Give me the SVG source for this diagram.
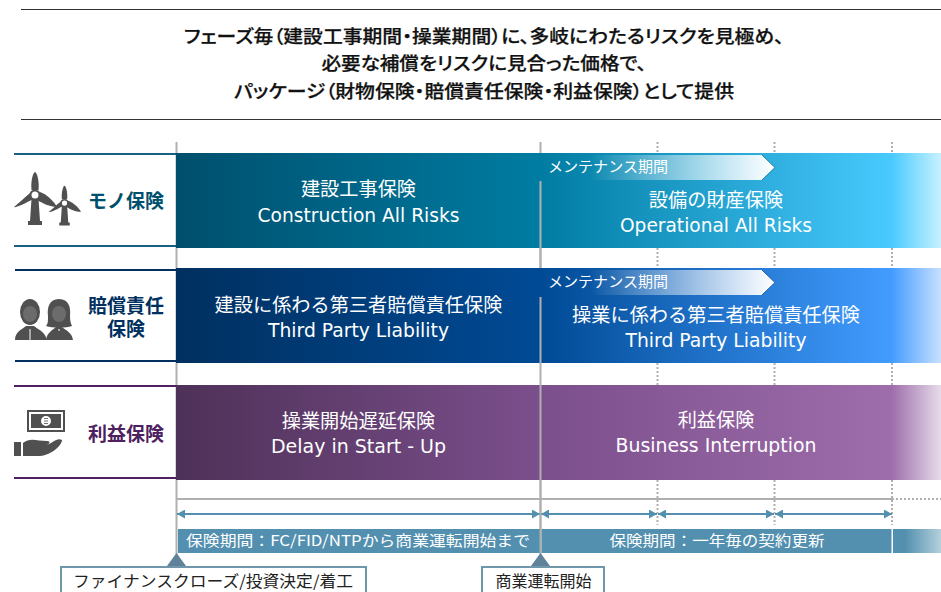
<svg xmlns="http://www.w3.org/2000/svg" width="941" height="592" viewBox="0 0 941 592">
<style>
text{font-family:"Noto Sans CJK JP","DejaVu Sans",sans-serif}
.lat{font-family:"DejaVu Sans",sans-serif;font-size:18.500px}
.w{fill:#fff;font-size:19.200px;text-anchor:middle}
.m{fill:#fff;font-size:15px}
.h{font-size:19px;font-weight:700;text-anchor:middle}
.t{fill:#111;stroke:#111;stroke-width:.25px;font-size:18px;font-weight:500;text-anchor:middle;font-feature-settings:"palt"}
.g{stroke:#b0b0b0;stroke-width:2;fill:none}
.d{stroke:#b0b0b0;stroke-width:2;stroke-dasharray:2 2;fill:none}
.ic{fill:#505050}
.a{stroke:#5390b0;stroke-width:2;fill:none;marker-start:url(#as);marker-end:url(#ae)}
.bar{fill:#5390b0}
.bt{fill:#fff;font-size:15px;text-anchor:middle}
.box{fill:#fff;stroke:#6f96aa;stroke-width:2}
.tri{fill:#5f8199}
.k{fill:#222;font-size:16px;text-anchor:middle}
</style>
<defs>
<linearGradient id="r1" gradientUnits="userSpaceOnUse" x1="176" y1="0" x2="941" y2="0"><stop offset="0" stop-color="#004f6d"/><stop offset=".476" stop-color="#007ca2"/><stop offset=".935" stop-color="#48caff"/><stop offset="1" stop-color="#c8f1ff"/></linearGradient>
<linearGradient id="r2" gradientUnits="userSpaceOnUse" x1="176" y1="0" x2="941" y2="0"><stop offset="0" stop-color="#003060"/><stop offset=".476" stop-color="#004a95"/><stop offset=".935" stop-color="#429cff"/><stop offset="1" stop-color="#c8e0ff"/></linearGradient>
<linearGradient id="r3" gradientUnits="userSpaceOnUse" x1="176" y1="0" x2="941" y2="0"><stop offset="0" stop-color="#4e3158"/><stop offset=".476" stop-color="#7b4f8c"/><stop offset=".935" stop-color="#9e6dab"/><stop offset="1" stop-color="#e6dcea"/></linearGradient>
<linearGradient id="mg1" gradientUnits="userSpaceOnUse" x1="590" y1="0" x2="775" y2="0"><stop offset="0" stop-color="#fff" stop-opacity="0"/><stop offset="1" stop-color="#fff"/></linearGradient>
<linearGradient id="bg" gradientUnits="userSpaceOnUse" x1="905" y1="0" x2="941" y2="0"><stop offset="0" stop-color="#5390b0"/><stop offset="1" stop-color="#b4d0dc"/></linearGradient>
<marker id="as" viewBox="0 0 8 9" refX="0" refY="4.500" markerUnits="userSpaceOnUse" markerWidth="8" markerHeight="9" orient="auto"><path d="M8 0L0 4.500L8 9Z" fill="#5390b0"/></marker>
<marker id="ae" viewBox="0 0 8 9" refX="8" refY="4.500" markerUnits="userSpaceOnUse" markerWidth="8" markerHeight="9" orient="auto"><path d="M0 0L8 4.500L0 9Z" fill="#5390b0"/></marker>
<g id="tb"><path class="ic" d="M-3.500 4H3.500L5 26H7V30H-7V26H-5Z"/><path class="ic" d="M-3.500-5C-4.500-13-2-23 0-23C2-23 4.500-13 3.500-5Z"/><path class="ic" d="M5-3C11-1 19 6 22 12C15 12 7 8 2 5Z"/><path class="ic" d="M-5-2C-10 2-17 9-21 12C-19 13-9 8-2 4Z"/><circle cx="0" cy="0" r="4.500" fill="#fff" stroke="#505050" stroke-width="2"/></g>
</defs>
<g id="grid">
<path d="M21 9.500H941M21 119.500H941" stroke="#333" stroke-width="1" fill="none"/>
</g>
<g id="heading">
<text class="t" x="484" y="43" textLength="600" lengthAdjust="spacingAndGlyphs">フェーズ毎（建設工事期間・操業期間）に、多岐にわたるリスクを見極め、</text>
<text class="t" x="484" y="70" textLength="325" lengthAdjust="spacingAndGlyphs">必要な補償をリスクに見合った価格で、</text>
<text class="t" x="484" y="98" textLength="500" lengthAdjust="spacingAndGlyphs">パッケージ（財物保険・賠償責任保険・利益保険）として提供</text>
</g>
<g id="connectors">
<path class="g" d="M176.500 142V565M540.500 142V153M540.500 248V268M177 499H892"/>
<path class="d" d="M657.500 142V153M774.500 142V153M892 142V153M657.500 248V268M774.500 248V268M892 248V268M657.500 363V385M774.500 363V385M892 363V385M657.500 480V525M774.500 480V525M892 480V525M892 499H941"/>
</g>
<g id="row1">
<path d="M14 154H176M14 246H176" stroke="#1a6080" stroke-width="2"/>
<use href="#tb" x="35" y="195"/><use href="#tb" transform="translate(64.500 203) scale(.75)"/>
<text class="h" x="126" y="208" fill="#004f6d">モノ保険</text>
<rect x="176" y="153" width="765" height="95" fill="url(#r1)"/>
<text class="w" x="358.500" y="196">建設工事保険</text>
<text class="w lat" x="358.500" y="222" textLength="202" lengthAdjust="spacingAndGlyphs">Construction All Risks</text>
<text class="w" x="716" y="207">設備の財産保険</text>
<text class="w lat" x="716" y="232" textLength="192" lengthAdjust="spacingAndGlyphs">Operational All Risks</text>
<path d="M541 155H762L775 167.500L762 180H541Z" fill="url(#mg1)"/>
<path d="M762 155L775 167.500L762 180" fill="none" stroke="#1a7ea6" stroke-width="1"/>
<text class="m" x="548" y="172" textLength="120" lengthAdjust="spacingAndGlyphs">メンテナンス期間</text>
</g>
<g id="row2">
<path d="M15 270H176M15 361H176" stroke="#003060" stroke-width="2"/>
<g class="ic"><ellipse cx="30" cy="312" rx="10" ry="13"/><path d="M15 340C15 331 23 329 26 326H34C37 329 45 331 47 340Z"/><path d="M59 299C69 299 71 308 70 316C70 321 71 324 72 326C66 328 52 328 46 326C48 324 48 321 48 316C47 308 49 299 59 299Z"/><path d="M46 340C47 332 53 330 56 327H62C65 330 72 332 73 340Z"/></g>
<ellipse cx="30" cy="314" rx="7" ry="8" fill="#6c6c6c"/><ellipse cx="59" cy="314" rx="7" ry="8" fill="#6c6c6c"/>
<path d="M30 329V340M59 329V331" stroke="#fff" stroke-width="1" fill="none"/>
<text class="h" fill="#003060"><tspan x="126" y="313">賠償責任</tspan><tspan x="126" y="336">保険</tspan></text>
<rect x="176" y="268" width="765" height="95" fill="url(#r2)"/>
<text class="w" x="358.500" y="312">建設に係わる第三者賠償責任保険</text>
<text class="w lat" x="358.500" y="337" textLength="181" lengthAdjust="spacingAndGlyphs">Third Party Liability</text>
<text class="w" x="716" y="322">操業に係わる第三者賠償責任保険</text>
<text class="w lat" x="716" y="347" textLength="181" lengthAdjust="spacingAndGlyphs">Third Party Liability</text>
<path d="M541 270H762L775 282.500L762 295H541Z" fill="url(#mg1)"/>
<path d="M762 270L775 282.500L762 295" fill="none" stroke="#1a5ea6" stroke-width="1"/>
<text class="m" x="548" y="287" textLength="120" lengthAdjust="spacingAndGlyphs">メンテナンス期間</text>
</g>
<g id="row3">
<path d="M14 386H176M14 478H176" stroke="#4e2060" stroke-width="2"/>
<g class="ic"><path fill-rule="evenodd" d="M27 410H65V432H27ZM29 412V430H63V412Z"/><path fill-rule="evenodd" d="M31 414H61V428H31ZM46 416A5 5 0 1 0 46 426A5 5 0 1 0 46 416Z"/><path d="M44 418.500H48M44 421H48M44 423.500H48" stroke="#505050" stroke-width=".8"/><path d="M14 442H21V456H14ZM23 443C30 437 37 441 47 441C51 441 50 444 46 445C52 444 57 437 62 440C62 445 52 455 40 456H23Z"/></g>
<text class="h" x="126" y="441" fill="#4e2060">利益保険</text>
<rect x="176" y="385" width="765" height="95" fill="url(#r3)"/>
<text class="w" x="358.500" y="428">操業開始遅延保険</text>
<text class="w lat" x="358.500" y="453" textLength="175" lengthAdjust="spacingAndGlyphs">Delay in Start - Up</text>
<text class="w" x="716" y="427">利益保険</text>
<text class="w lat" x="716" y="452" textLength="201" lengthAdjust="spacingAndGlyphs">Business Interruption</text>
</g>
<g id="timeline">
<path class="g" d="M540.500 181V268M540.500 297V565"/>
<path class="a" d="M177 514H540"/><path class="a" d="M541 514H657"/><path class="a" d="M658 514H774"/><path class="a" d="M775 514H892"/>
<rect class="bar" x="178" y="529" width="362" height="24"/><rect class="bar" x="541.500" y="529" width="350" height="24"/><rect x="893" y="529" width="48" height="24" fill="url(#bg)"/>
<path class="g" d="M540.500 480V553"/>
<text class="bt" x="358" y="546" textLength="344" lengthAdjust="spacingAndGlyphs">保険期間：FC/FID/NTPから商業運転開始まで</text>
<text class="bt" x="717" y="546" textLength="215" lengthAdjust="spacingAndGlyphs">保険期間：一年毎の契約更新</text>
</g>
<g id="fc"><path class="tri" d="M176.500 553L186 566H167Z"/><rect class="box" x="61" y="567" width="305" height="30"/><text class="k" x="213" y="587" textLength="280" lengthAdjust="spacingAndGlyphs">ファイナンスクローズ/投資決定/着工</text></g>
<g id="cod"><path class="tri" d="M540.500 553L550 566H531Z"/><rect class="box" x="482" y="567" width="122" height="30"/><text class="k" x="543.500" y="587">商業運転開始</text></g>
</svg>
